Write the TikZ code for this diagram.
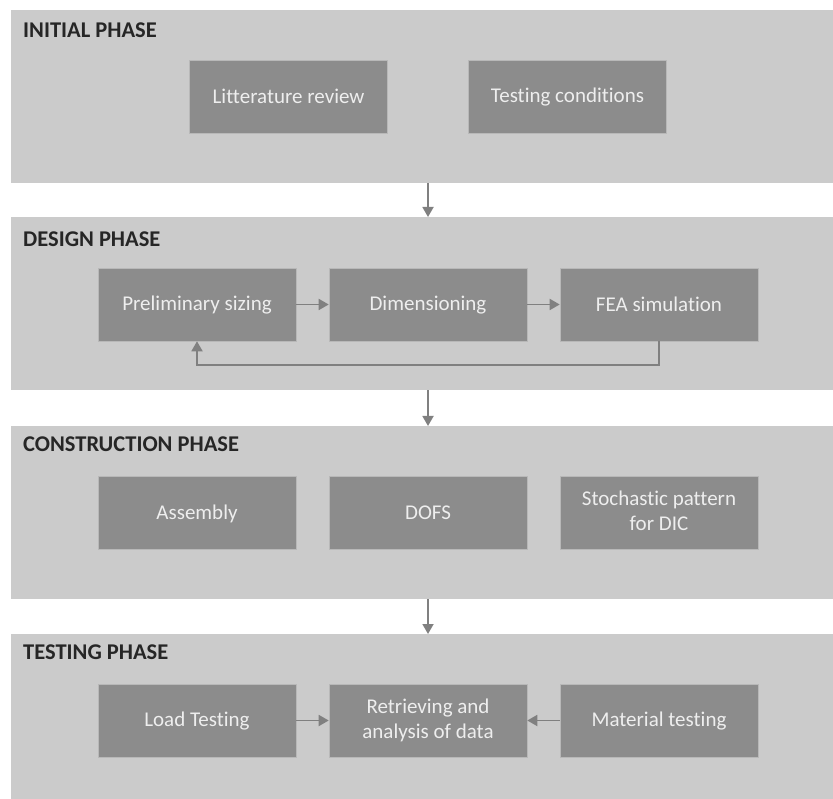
\documentclass[tikz,border=0pt]{standalone}
\usepackage{fontspec}
\setmainfont{Carlito}[Ligatures=NoCommon]
\usetikzlibrary{arrows.meta}
\definecolor{panelgray}{HTML}{CBCBCB}
\definecolor{boxgray}{HTML}{8C8C8C}
\definecolor{boxline}{HTML}{B8B8B8}
\definecolor{textgray}{HTML}{EEEEEE}
\definecolor{headgray}{HTML}{262626}
\definecolor{arrowgray}{HTML}{808080}
\newcommand{\boxstrut}{\rule[-3pt]{0pt}{19.5pt}}

\begin{document}
\begin{tikzpicture}[x=1pt,y=-1pt]
  \tikzstyle{panel}=[rectangle,fill=panelgray,draw=none,minimum width=822pt,inner sep=0pt,anchor=north west]
  \tikzstyle{task}=[rectangle,fill=boxgray,draw=boxline,line width=0.6pt,minimum width=198pt,minimum height=73pt,inner sep=0pt,text=textgray,align=center,font=\fontsize{21}{25}\selectfont,execute at begin node=\boxstrut,execute at end node=\boxstrut]
  \tikzstyle{heading}=[anchor=west,text=headgray,inner sep=0pt,font=\fontsize{22.5}{24}\selectfont\bfseries]
  \tikzstyle{flow}=[draw=arrowgray,line width=1.8pt,-{Triangle[length=10pt,width=11pt]}]

  \useasboundingbox (0,0) rectangle (833,799);

  % phases
  \foreach \name/\top/\h/\ty/\title in {init/10/173/30/INITIAL PHASE, design/217/173/239/DESIGN PHASE, constr/426/173/444/CONSTRUCTION PHASE, test/634/165/652/TESTING PHASE}
  {
    \node[panel,minimum height=\h pt] (\name) at (11,\top) {};
    \node[heading] (\name-title) at (23,\ty) {\title};
  }

  % tasks
  \foreach \name/\x/\y/\txt in {lit/288.5/96.5/Litterature review, cond/567.5/96.5/Testing conditions,
      prelim/197/304.5/Preliminary sizing, dim/428/304.5/Dimensioning, fea/659/304.5/FEA simulation,
      asm/197/512.5/Assembly, dofs/428/512.5/DOFS, dic/659/512.5/{Stochastic pattern\\for DIC},
      load/197/720.5/Load Testing, retr/428/720.5/{Retrieving and\\analysis of data}, mat/659/720.5/Material testing}
    \node[task] (G-\name) at (\x,\y) {\txt};

  % between phases
  \foreach \from/\to in {init/design, design/constr, constr/test}
    \draw[flow] (\from.south -| G-dim) -- (\to.north -| G-dim);

  \foreach \from/\to in {prelim/dim, dim/fea, load/retr, mat/retr}
    \draw[flow] (G-\from) -- (G-\to);

  % loop back
  \draw[flow] (G-fea.south) -- ++(0,24) -| (G-prelim.south);
\end{tikzpicture}
\end{document}
